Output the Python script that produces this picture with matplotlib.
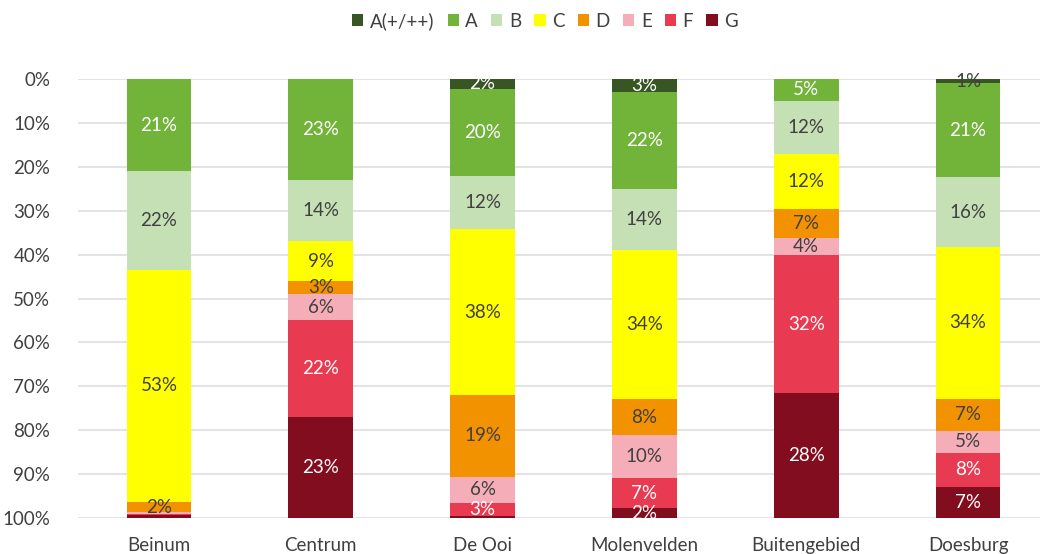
import matplotlib
matplotlib.use("Agg")
import matplotlib.pyplot as plt
import numpy as np

categories = ["Beinum", "Centrum", "De Ooi", "Molenvelden", "Buitengebied", "Doesburg"]
series_names = ["A(+/++)", "A", "B", "C", "D", "E", "F", "G"]
a_plus = [0.0, 0.0, 2.2, 3.0, 0.0, 1.0]
a_val = [21.0, 23.0, 20.0, 22.0, 5.0, 21.3]
b_val = [22.4, 14.0, 12.0, 14.0, 12.0, 16.0]
c_val = [53.0, 9.0, 37.8, 34.0, 12.5, 34.5]
d_val = [2.2, 3.0, 18.6, 8.0, 6.8, 7.3]
e_val = [0.4, 6.0, 6.0, 10.0, 3.8, 5.0]
f_val = [0.4, 22.0, 3.0, 6.8, 31.5, 7.9]
g_val = [0.6, 23.0, 0.4, 2.2, 28.4, 7.0]

colors = ["#375623", "#72B33A", "#C5E0B4", "#FFFF00", "#F39200", "#F5ADB8", "#E83A51", "#820D1E"]
label_colors = ["white", "white", "#404040", "#404040", "#404040", "#404040", "white", "white"]

data = [a_plus, a_val, b_val, c_val, d_val, e_val, f_val, g_val]

plt.rcParams['font.family'] = ['Lato', 'DejaVu Sans']
fig = plt.figure(figsize=(10.4, 5.54), dpi=100)
ax = fig.add_axes([78/1040, 1-518/554, 1-78/1040, (518-79)/554])

x = np.arange(len(categories))
width = 0.40
bottom = np.zeros(len(categories))
handles = []
for i, (name, vals) in enumerate(zip(series_names, data)):
    vals = np.array(vals)
    h = ax.bar(x, vals, width, bottom=bottom, color=colors[i], label=name, zorder=3)
    handles.append(h)
    for j, v in enumerate(vals):
        if v >= 0.95:
            col = label_colors[i]
            if i == 0 and v < 1.5:
                col = "#404040"
            ax.text(x[j], bottom[j] + v/2, f"{round(v):.0f}%", ha="center", va="center",
                    fontsize=13.5, color=col, zorder=4)
    bottom += vals

ax.set_ylim(100, 0)
ax.set_xlim(-0.5, 5.5 - 9/162)
ax.set_yticks(np.arange(0, 101, 10))
ax.set_yticklabels([f"{t}%" for t in range(0, 101, 10)], fontsize=13.5, color="#404040")
ax.set_xticks(x)
ax.set_xticklabels(categories, fontsize=13.5, color="#404040")
ax.tick_params(axis="both", length=0)
ax.tick_params(axis="y", pad=20)
ax.tick_params(axis="x", pad=14)
ax.grid(axis="y", color="#E0E0E0", linewidth=1.3, zorder=0)
for s in ax.spines.values():
    s.set_visible(False)

fig.legend(handles=handles, labels=series_names, loc="center", bbox_to_anchor=(545/1040, 1-21/554),
           ncol=8, frameon=False, fontsize=13.5, handlelength=0.6, handleheight=0.6,
           handletextpad=0.35, columnspacing=0.7, labelcolor="#404040")

fig.savefig("out.png", dpi=100)
